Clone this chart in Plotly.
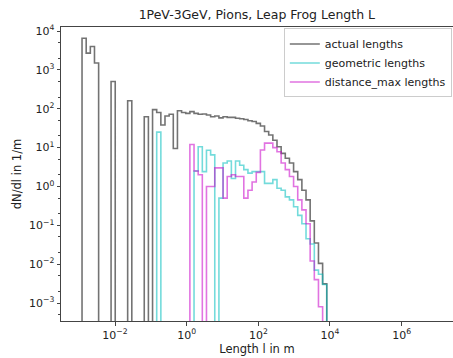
import numpy as np
import plotly.graph_objects as go

# ---- histogram binning (log-spaced bins, in log10 metres) ----
EDGE_MIN_LOG = -2.92
EDGE_MAX_LOG = 3.91
N_BINS = 59

# ---- bin contents dN/dl (1/m) ----
actual = [6500, 2700, 4000, 1500, 0, 0, 0, 500, 0, 0,
          0, 160, 0, 0, 0, 62, 0, 95, 80, 38,
          65, 72, 9.5, 89, 80, 76, 84, 76, 72, 73,
          69, 62, 65, 58, 62, 60, 60, 57, 55, 53,
          49, 47, 42, 36, 26, 21, 15.5, 10.5, 7.1, 5.3,
          4, 2.4, 1.5, 0.8, 0.45, 0.13, 0.035, 0.0105, 0.0031]

geometric = [0, 0, 0, 0, 0, 0, 0, 0, 0, 0,
             0, 0, 0, 0, 0, 0, 0, 0, 25, 0,
             0, 0, 0, 0, 0, 0, 0, 2.5, 10.5, 2.4,
             8.5, 6.5, 0, 0.5, 4, 4.5, 1.6, 4.5, 3.5, 2.7,
             2.2, 2.4, 2.4, 2.4, 1.2, 1.2, 1.5, 0.9, 0.8, 0.54,
             0.45, 0.3, 0.18, 0.11, 0.045, 0.033, 0.007, 0.0055, 0.003]

distance_max = [0, 0, 0, 0, 0, 0, 0, 0, 0, 0,
                0, 0, 0, 0, 0, 0, 0, 0, 0, 0,
                0, 0, 0, 0, 0, 0, 12, 2.5, 2.0, 0,
                1.0, 1.0, 3, 3, 0.5, 1.8, 2.0, 1.8, 1.8, 0.5,
                0.8, 1.3, 2.3, 8.7, 13, 13, 10, 7.8, 4, 2.7,
                1.8, 1.0, 0.45, 0.25, 0.11, 0.012, 0.004, 0.0008, 0]

series_names = ["actual lengths", "geometric lengths", "distance_max lengths"]
series_colors = ["rgba(0,0,0,0.55)", "rgba(0,190,190,0.55)", "rgba(200,0,200,0.55)"]

x_tickvals = [1e-2, 1e0, 1e2, 1e4, 1e6]
x_ticktext = ["10<sup>\u22122</sup>", "10<sup>0</sup>", "10<sup>2</sup>", "10<sup>4</sup>", "10<sup>6</sup>"]
y_tickvals = [1e-3, 1e-2, 1e-1, 1e0, 1e1, 1e2, 1e3, 1e4]
y_ticktext = ["10<sup>\u22123</sup>", "10<sup>\u22122</sup>", "10<sup>\u22121</sup>", "10<sup>0</sup>",
              "10<sup>1</sup>", "10<sup>2</sup>", "10<sup>3</sup>", "10<sup>4</sup>"]

edges = np.logspace(EDGE_MIN_LOG, EDGE_MAX_LOG, N_BINS + 1)
FLOOR = 1e-9  # empty bins drop below the visible axis (like matplotlib log clipping)


def step_xy(counts):
    c = [v if v > 0 else FLOOR for v in counts]
    xs = [edges[0]] + list(edges)
    ys = [FLOOR] + c + [FLOOR]
    return xs, ys


fig = go.Figure()
for name, counts, col in zip(series_names, [actual, geometric, distance_max], series_colors):
    xs, ys = step_xy(counts)
    fig.add_trace(go.Scatter(x=xs, y=ys, mode="lines", name=name,
                             line=dict(color=col, width=1.6, shape="hv")))

fig.update_layout(
    width=453, height=358,
    margin=dict(l=61, r=0, t=27, b=37),
    paper_bgcolor="white", plot_bgcolor="white",
    font=dict(family="DejaVu Sans", size=11, color="#222"),
    title=dict(text="1PeV-3GeV, Pions, Leap Frog Length L", x=0.567, xanchor="center",
               y=0.96, yanchor="middle", font=dict(size=12.5, color="#222")),
    showlegend=True,
    legend=dict(x=0.997, xanchor="right", y=0.995, yanchor="top",
                bgcolor="rgba(255,255,255,0.8)", bordercolor="#cccccc", borderwidth=1,
                font=dict(size=11, color="#222"), tracegroupgap=0, itemwidth=30),
)
fig.update_xaxes(type="log", range=[-3.507, 7.433], showgrid=False, zeroline=False,
                 showline=True, linecolor="#444", linewidth=1, mirror=True,
                 ticks="outside", ticklen=3.5, tickcolor="#444",
                 tickvals=x_tickvals, ticktext=x_ticktext, tickfont=dict(size=11),
                 title=dict(text="Length l in m", font=dict(size=11.5), standoff=2))
fig.update_yaxes(type="log", range=[-3.463, 4.103], showgrid=False, zeroline=False,
                 showline=True, linecolor="#444", linewidth=1,
                 ticks="outside", ticklen=3.5, tickcolor="#444",
                 tickvals=y_tickvals, ticktext=y_ticktext, tickfont=dict(size=11),
                 minor=dict(ticks="outside", ticklen=2, tickcolor="#444", showgrid=False),
                 title=dict(text="dN/dl in 1/m", font=dict(size=11.5), standoff=4))

fig.write_html("out.html")
